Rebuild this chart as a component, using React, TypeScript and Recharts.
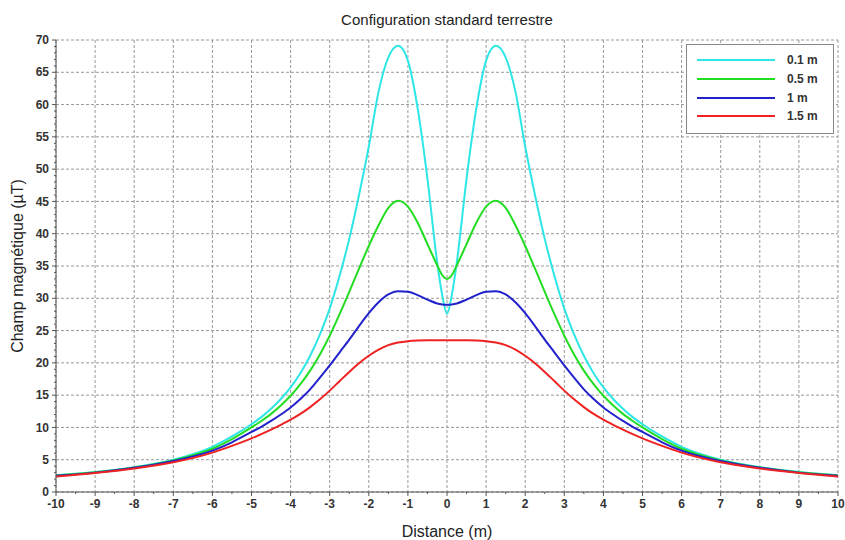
import { LineChart, Line, XAxis, YAxis, CartesianGrid, Legend } from 'recharts';

if (typeof document !== 'undefined') document.body.style.margin = '0';

// distances (m)
const distances = [
  -10, -9, -8, -7, -6, -5.5, -5, -4.75, -4.5, -4.25, -4, -3.75, -3.5, -3.25, -3, -2.75, -2.5, -2.25, -2, -1.75,
  -1.5, -1.25, -1, -0.75, -0.5, -0.25, -0.125, 0, 0.125, 0.25, 0.5, 0.75, 1, 1.25, 1.5, 1.75, 2, 2.25, 2.5,
  2.75, 3, 3.25, 3.5, 3.75, 4, 4.25, 4.5, 4.75, 5, 5.5, 6, 7, 8, 9, 10,
];

// champ magnétique (µT), one list per height above ground
const h01 = [
  2.6, 3.1, 3.85, 5.0, 7.0, 8.6, 10.5, 11.6, 12.9, 14.4, 16.2, 18.4, 21.1, 24.4, 28.4, 33.4, 39.2, 46.0, 53.5, 62.0,
  67.3, 69.1, 66.8, 59.4, 48.5, 35.5, 30.6, 27.6, 30.6, 35.5, 48.5, 59.4, 66.8, 69.1, 67.3, 62.0, 53.5, 46.0, 39.2,
  33.4, 28.4, 24.4, 21.1, 18.4, 16.2, 14.4, 12.9, 11.6, 10.5, 8.6, 7.0, 5.0, 3.85, 3.1, 2.6,
];
const h05 = [
  2.55, 3.05, 3.8, 4.9, 6.7, 8.2, 10.0, 11.0, 12.1, 13.4, 14.9, 16.7, 18.8, 21.3, 24.2, 27.5, 31.0, 34.6, 38.1, 41.3,
  44.0, 45.1, 44.2, 41.7, 38.4, 35.1, 33.6, 33.0, 33.6, 35.1, 38.4, 41.7, 44.2, 45.1, 44.0, 41.3, 38.1, 34.6, 31.0,
  27.5, 24.2, 21.3, 18.8, 16.7, 14.9, 13.4, 12.1, 11.0, 10.0, 8.2, 6.7, 4.9, 3.8, 3.05, 2.55,
];
const h1 = [
  2.5, 3.0, 3.75, 4.8, 6.4, 7.7, 9.3, 10.1, 11.0, 12.0, 13.1, 14.4, 15.9, 17.7, 19.6, 21.6, 23.6, 25.7, 27.7, 29.4,
  30.6, 31.1, 31.0, 30.5, 29.8, 29.2, 29.05, 29.0, 29.05, 29.2, 29.8, 30.5, 31.0, 31.1, 30.6, 29.4, 27.7, 25.7, 23.6,
  21.6, 19.6, 17.7, 15.9, 14.4, 13.1, 12.0, 11.0, 10.1, 9.3, 7.7, 6.4, 4.8, 3.75, 3.0, 2.5,
];
const h15 = [
  2.4, 2.95, 3.65, 4.6, 6.1, 7.15, 8.3, 8.95, 9.65, 10.4, 11.2, 12.1, 13.15, 14.35, 15.7, 17.15, 18.6, 19.95, 21.1, 22.05,
  22.75, 23.15, 23.35, 23.45, 23.5, 23.5, 23.5, 23.5, 23.5, 23.5, 23.5, 23.45, 23.35, 23.15, 22.75, 22.05, 21.1, 19.95, 18.6,
  17.15, 15.7, 14.35, 13.15, 12.1, 11.2, 10.4, 9.65, 8.95, 8.3, 7.15, 6.1, 4.6, 3.65, 2.95, 2.4,
];

const X_DOMAIN = [-10, 10];
const Y_DOMAIN = [0, 70];
const xMajor = [-10, -9, -8, -7, -6, -5, -4, -3, -2, -1, 0, 1, 2, 3, 4, 5, 6, 7, 8, 9, 10];
const yMajor = [0, 5, 10, 15, 20, 25, 30, 35, 40, 45, 50, 55, 60, 65, 70];
// minor ticks: half metre on x, 1 µT on y
const xAllTicks = [
  -10, -9.5, -9, -8.5, -8, -7.5, -7, -6.5, -6, -5.5, -5, -4.5, -4, -3.5, -3, -2.5, -2, -1.5, -1, -0.5, 0, 0.5, 1,
  1.5, 2, 2.5, 3, 3.5, 4, 4.5, 5, 5.5, 6, 6.5, 7, 7.5, 8, 8.5, 9, 9.5, 10,
];
const yAllTicks = Array.from({ length: 71 }, (_, i) => i);

const series = [
  { key: 'h01', name: '0.1 m', color: '#2ee6e6' },
  { key: 'h05', name: '0.5 m', color: '#22dd22' },
  { key: 'h1', name: '1 m', color: '#2222cc' },
  { key: 'h15', name: '1.5 m', color: '#ee2222' },
];

const data = distances.map((d, i) => ({ d, h01: h01[i], h05: h05[i], h1: h1[i], h15: h15[i] }));

const FONT = '"Liberation Sans", Arial, sans-serif';
const AXIS = '#555';
const TICK = 4;
const GAP = 3;

const XTick = (props: any) => {
  const { x, y, payload } = props;
  const v = payload.value;
  const major = xMajor.includes(v);
  const axisY = y - TICK - GAP;
  return (
    <g>
      <line x1={x} x2={x} y1={axisY} y2={axisY + (major ? TICK : 2)} stroke={AXIS} />
      {major && (
        <text x={x} y={y} dy="0.75em" textAnchor="middle" fontSize={12} fontWeight={700} fontFamily={FONT} fill="#333">
          {v}
        </text>
      )}
    </g>
  );
};

const YTick = (props: any) => {
  const { x, y, payload } = props;
  const v = payload.value;
  const major = yMajor.includes(v);
  const axisX = x + TICK + GAP;
  return (
    <g>
      <line x1={axisX} x2={axisX - (major ? TICK : 2)} y1={y} y2={y} stroke={AXIS} />
      {major && (
        <text x={x} y={y} dy="0.35em" textAnchor="end" fontSize={12} fontWeight={700} fontFamily={FONT} fill="#333">
          {v}
        </text>
      )}
    </g>
  );
};

function LegendBox() {
  return (
    <div
      style={{
        border: '1px solid #888',
        background: '#fff',
        padding: '6px 0 7px 10px',
        fontFamily: FONT,
        fontSize: 12,
        fontWeight: 700,
        color: '#333',
      }}
    >
      {series.map((s) => (
        <div key={s.key} style={{ display: 'flex', alignItems: 'center', height: 18.7 }}>
          <div style={{ width: 78, height: 2, background: s.color, marginRight: 12 }} />
          <span>{s.name}</span>
        </div>
      ))}
    </div>
  );
}

const YLabel = (props: any) => {
  const vb = props.viewBox;
  const cy = vb.y + vb.height / 2;
  return (
    <text
      x={19}
      y={cy}
      transform={`rotate(-90, 19, ${cy})`}
      textAnchor="middle"
      dominantBaseline="middle"
      fontSize={16}
      fontFamily={FONT}
      fill="#222"
    >
      Champ magnétique (µT)
    </text>
  );
};

// grid only on the major ticks, placed with the plot box the chart hands over
const vGrid = ({ offset }: any) =>
  xMajor.map((v) => offset.left + ((v - X_DOMAIN[0]) / (X_DOMAIN[1] - X_DOMAIN[0])) * offset.width);
const hGrid = ({ offset }: any) =>
  yMajor.map((v) => offset.top + offset.height - ((v - Y_DOMAIN[0]) / (Y_DOMAIN[1] - Y_DOMAIN[0])) * offset.height);

export default function App() {
  return (
    <div style={{ position: 'relative', width: 845, height: 540, background: '#fff' }}>
      <div
        style={{
          position: 'absolute',
          left: 56,
          width: 782,
          top: 11,
          textAlign: 'center',
          fontFamily: FONT,
          fontSize: 15,
          color: '#222',
        }}
      >
        Configuration standard terrestre
      </div>
      <LineChart width={845} height={540} data={data} margin={{ top: 40, right: 7, bottom: 0, left: 0 }}>
        <CartesianGrid
          stroke="#999"
          strokeDasharray="3 2"
          verticalCoordinatesGenerator={vGrid}
          horizontalCoordinatesGenerator={hGrid}
        />
        <XAxis
          dataKey="d"
          type="number"
          domain={X_DOMAIN}
          ticks={xAllTicks}
          interval={0}
          height={48}
          tick={<XTick />}
          tickLine={false}
          tickSize={TICK}
          tickMargin={GAP}
          stroke={AXIS}
          allowDataOverflow
          label={{
            value: 'Distance (m)',
            position: 'insideBottom',
            offset: 3,
            style: { fontSize: 16, fontFamily: FONT, fill: '#222', fontWeight: 400 },
          }}
        />
        <YAxis
          type="number"
          domain={Y_DOMAIN}
          ticks={yAllTicks}
          interval={0}
          width={56}
          tick={<YTick />}
          tickLine={false}
          tickSize={TICK}
          tickMargin={GAP}
          stroke={AXIS}
          label={<YLabel />}
        />
        <Legend
          layout="horizontal"
          verticalAlign="middle"
          align="center"
          wrapperStyle={{ top: 44, left: 686, width: 148 }}
          content={() => <LegendBox />}
        />
        {series.map((s) => (
          <Line
            key={s.key}
            dataKey={s.key}
            name={s.name}
            type="monotone"
            stroke={s.color}
            strokeWidth={2}
            dot={false}
            isAnimationActive={false}
          />
        ))}
      </LineChart>
    </div>
  );
}
